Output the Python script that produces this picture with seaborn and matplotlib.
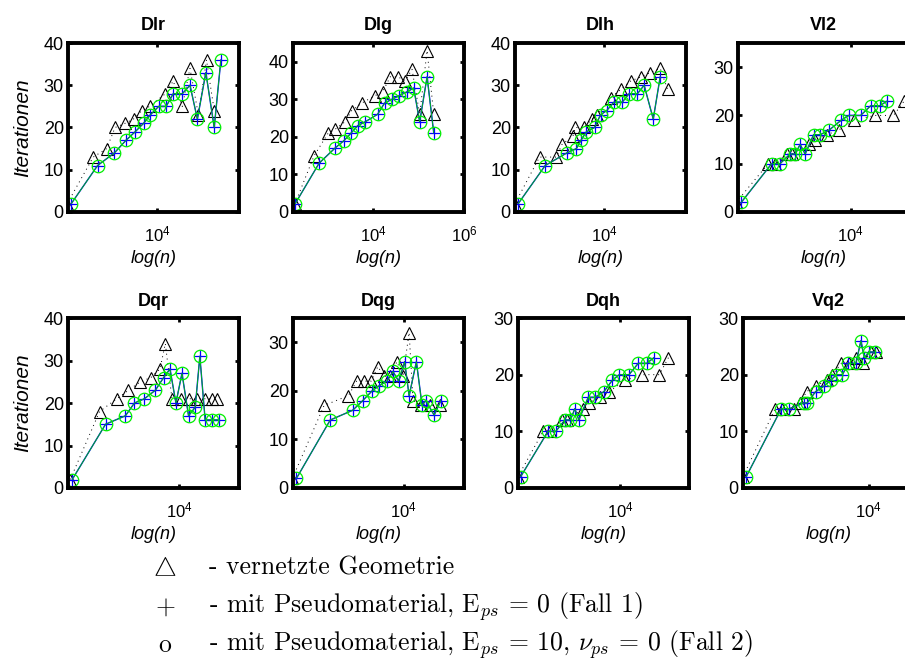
import matplotlib
matplotlib.use("Agg")
import matplotlib.pyplot as plt
from matplotlib.ticker import NullLocator
import seaborn as sns

# --- data: n (Knoten) vs. Iterationen ---
# tri = vernetzte Geometrie, ps = mit Pseudomaterial (Fall 1 / Fall 2 coincide)
dlr_n_tri = [105, 392, 774, 1190, 1980, 3030, 4640, 6870, 15300, 22700, 36000, 53200, 81500, 123000, 182000]
dlr_it_tri = [2, 13, 15, 20, 21, 22, 24, 25, 28, 31, 25, 34, 23, 36, 24]
dlr_n_ps = [129, 489, 1150, 2080, 3300, 5060, 7110, 10900, 15900, 22700, 36000, 53200, 77400, 119000, 182000, 255000]
dlr_it_ps = [2, 11, 14, 17, 19, 21, 23, 25, 25, 28, 28, 30, 22, 33, 20, 36]

dlg_n_tri = [182, 489, 1000, 1410, 2340, 3300, 5510, 10900, 15900, 23500, 34200, 50600, 71100, 105000, 153000, 215000]
dlg_it_tri = [2, 15, 21, 22, 24, 27, 29, 31, 32, 36, 36, 35, 38, 26, 43, 26]
dlg_n_ps = [182, 631, 1410, 2230, 3190, 4490, 6530, 12300, 17600, 25500, 37200, 55100, 77400, 105000, 153000, 215000]
dlg_it_ps = [2, 13, 17, 19, 21, 23, 24, 26, 29, 30, 31, 32, 33, 24, 36, 21]

dlh_n_tri = [109, 379, 887, 1190, 2080, 2340, 3590, 5510, 7110, 14100, 23500, 39200, 65300, 105000, 175000, 255000]
dlh_it_tri = [2, 13, 13, 16, 18, 20, 20, 22, 23, 27, 29, 31, 32, 33, 34, 29]
dlh_n_ps = [129, 506, 1530, 2470, 3130, 4120, 6210, 8430, 11500, 16700, 25500, 36000, 55100, 77400, 123000, 175000]
dlh_it_ps = [2, 11, 14, 15, 17, 19, 20, 23, 24, 26, 26, 28, 28, 30, 22, 32]

vl2_n_tri = [30, 153, 215, 392, 506, 1190, 1670, 3030, 5510, 11900, 34200, 88700, 153000]
vl2_it_tri = [2, 10, 10, 12, 12, 14, 15, 16, 17, 19, 20, 20, 23]
vl2_n_ps = [39, 182, 278, 464, 600, 774, 1000, 1530, 2150, 3420, 6210, 9190, 16700, 27800, 44100, 65300]
vl2_it_ps = [2, 10, 10, 12, 12, 14, 12, 16, 16, 17, 19, 20, 20, 22, 22, 23]

dqr_n_tri = [37, 167, 405, 736, 1360, 2340, 3720, 4890, 6870, 10900, 16700, 25500, 37800, 55100, 71100]
dqr_it_tri = [2, 18, 21, 23, 25, 26, 28, 34, 21, 21, 21, 21, 21, 21, 21]
dqr_n_ps = [41, 227, 631, 1000, 1670, 2930, 4490, 6210, 8430, 11500, 16100, 22700, 28800, 37800, 55100, 77400]
dqr_it_ps = [2, 15, 17, 20, 21, 23, 26, 28, 20, 27, 17, 19, 31, 16, 16, 16]

dqg_n_tri = [35, 175, 600, 918, 1320, 1910, 2690, 3650, 5060, 7110, 9670, 13200, 16100, 24700, 37800, 63100]
dqg_it_tri = [2, 17, 19, 22, 22, 22, 25, 23, 23, 26, 23, 32, 18, 17, 17, 17]
dqg_n_ps = [43, 239, 748, 1250, 2010, 2830, 4270, 5800, 7740, 10500, 13200, 19100, 25500, 30800, 47200, 66400]
dqg_it_ps = [2, 14, 16, 18, 20, 21, 22, 24, 22, 26, 19, 26, 17, 18, 15, 18]

dqh_n_tri = [55, 198, 278, 524, 676, 1530, 2080, 3590, 5800, 12900, 30300, 74800, 119000]
dqh_it_tri = [2, 10, 10, 12, 12, 14, 15, 16, 17, 19, 20, 20, 23]
dqh_n_ps = [63, 255, 379, 600, 802, 1000, 1230, 1980, 2780, 4410, 6760, 9670, 15900, 25500, 39200, 57000]
dqh_it_ps = [2, 10, 10, 12, 12, 14, 12, 16, 16, 17, 19, 20, 20, 22, 22, 23]

vq2_n_tri = [17, 87, 123, 223, 313, 427, 676, 1230, 1590, 2510, 3720, 5240, 7360, 11300, 14600]
vq2_it_tri = [2, 14, 14, 14, 15, 17, 18, 19, 20, 22, 22, 23, 22, 24, 24]
vq2_n_ps = [20, 119, 179, 372, 441, 676, 1040, 1460, 1950, 2640, 3590, 5240, 6760, 8020, 10400, 14100]
vq2_it_ps = [2, 14, 14, 15, 15, 17, 18, 19, 20, 20, 22, 22, 26, 23, 24, 24]

titles = ["Dlr", "Dlg", "Dlh", "Vl2", "Dqr", "Dqg", "Dqh", "Vq2"]

legend_symbols = [r"$\bigtriangleup$", r"$+$", "o"]
legend_texts = [
    "- vernetzte Geometrie",
    r"- mit Pseudomaterial, E$_{ps}$ = 0 (Fall 1)",
    r"- mit Pseudomaterial, E$_{ps}$ = 10, $\nu_{ps}$ = 0 (Fall 2)",
]

sns.set_style("ticks")
plt.rcParams["font.family"] = ["Liberation Sans", "DejaVu Sans"]
plt.rcParams["mathtext.fontset"] = "dejavusans"
for key in ["axes.edgecolor", "text.color", "axes.labelcolor", "xtick.color", "ytick.color"]:
    plt.rcParams[key] = "black"

# per panel: data, xlim, ylim top, xticks
panels = [
    (dlr_n_tri, dlr_it_tri, dlr_n_ps, dlr_it_ps, (109, 6.4e5), 40, [1e4]),
    (dlg_n_tri, dlg_it_tri, dlg_n_ps, dlg_it_ps, (167, 1e6), 45, [1e4, 1e6]),
    (dlh_n_tri, dlh_it_tri, dlh_n_ps, dlh_it_ps, (109, 6.5e5), 40, [1e4]),
    (vl2_n_tri, vl2_it_tri, vl2_n_ps, vl2_it_ps, (33, 1.95e5), 35, [1e4]),
    (dqr_n_tri, dqr_it_tri, dqr_n_ps, dqr_it_ps, (33, 2.15e5), 40, [1e4]),
    (dqg_n_tri, dqg_it_tri, dqg_n_ps, dqg_it_ps, (36, 2.15e5), 35, [1e4]),
    (dqh_n_tri, dqh_it_tri, dqh_n_ps, dqh_it_ps, (55, 3.4e5), 30, [1e4]),
    (vq2_n_tri, vq2_it_tri, vq2_n_ps, vq2_it_ps, (17, 1e5), 30, [1e4]),
]

W, H = 905, 663
fig = plt.figure(figsize=(W / 100, H / 100), dpi=100)

# axes boxes in pixels: left, top, width, height
boxes = [
    (68, 43, 171, 169), (293, 43, 171, 169), (515, 43, 171, 169), (738, 43, 171, 169),
    (68, 318, 171, 170), (293, 318, 171, 170), (518, 318, 171, 170), (743, 318, 171, 170),
]

for i, (box, p) in enumerate(zip(boxes, panels)):
    l, t, w, h = box
    n_tri, it_tri, n_ps, it_ps, xlim, ytop, xt = p
    ax = fig.add_axes([l / W, 1 - (t + h) / H, w / W, h / H])
    ax.set_xscale("log")

    sns.lineplot(x=n_tri, y=it_tri, ax=ax, color="k", linestyle=(0, (1, 4)), linewidth=0.7,
                 marker="^", markersize=9, markerfacecolor="none", markeredgecolor="k",
                 markeredgewidth=0.8, sort=False, estimator=None)
    sns.lineplot(x=n_ps, y=it_ps, ax=ax, color="#0000ff", linewidth=1.0,
                 marker="+", markersize=9, markeredgecolor="#0000ff",
                 markeredgewidth=0.9, sort=False, estimator=None)
    sns.lineplot(x=n_ps, y=it_ps, ax=ax, color="#00cc00", linewidth=0.6,
                 marker="o", markersize=9, markerfacecolor="none", markeredgecolor="#00ee00",
                 markeredgewidth=0.9, sort=False, estimator=None)

    ax.set_xlim(*xlim)
    ax.set_ylim(0, ytop)
    ax.set_xticks(xt)
    ax.xaxis.set_minor_locator(NullLocator())
    ax.set_yticks(range(0, ytop + 1, 10))

    ax.tick_params(direction="in", length=3, width=2, top=True, right=True,
                   labelsize=13, pad=3)
    ax.tick_params(axis="x", labelsize=12, pad=9)
    for s in ax.spines.values():
        s.set_linewidth(2.8)

    ax.set_title(titles[i], fontsize=13, fontweight="bold", pad=9)
    ax.set_xlabel("log(n)", fontsize=13, fontstyle="italic", labelpad=4)
    if i % 4 == 0:
        ax.set_ylabel("Iterationen", fontsize=15, fontstyle="italic", labelpad=8)
    else:
        ax.set_ylabel("")

# legend block under the plots
for k, (sym, txt) in enumerate(zip(legend_symbols, legend_texts)):
    y = 1 - (568 + 38.5 * k) / H
    fig.text(165 / W, y, sym, ha="center", va="center", fontsize=18.5,
             family="cmr10", math_fontfamily="cm")
    fig.text(209 / W, y, txt, ha="left", va="center", fontsize=18.5,
             family="cmr10", math_fontfamily="cm")

fig.savefig("out.png", dpi=100)
